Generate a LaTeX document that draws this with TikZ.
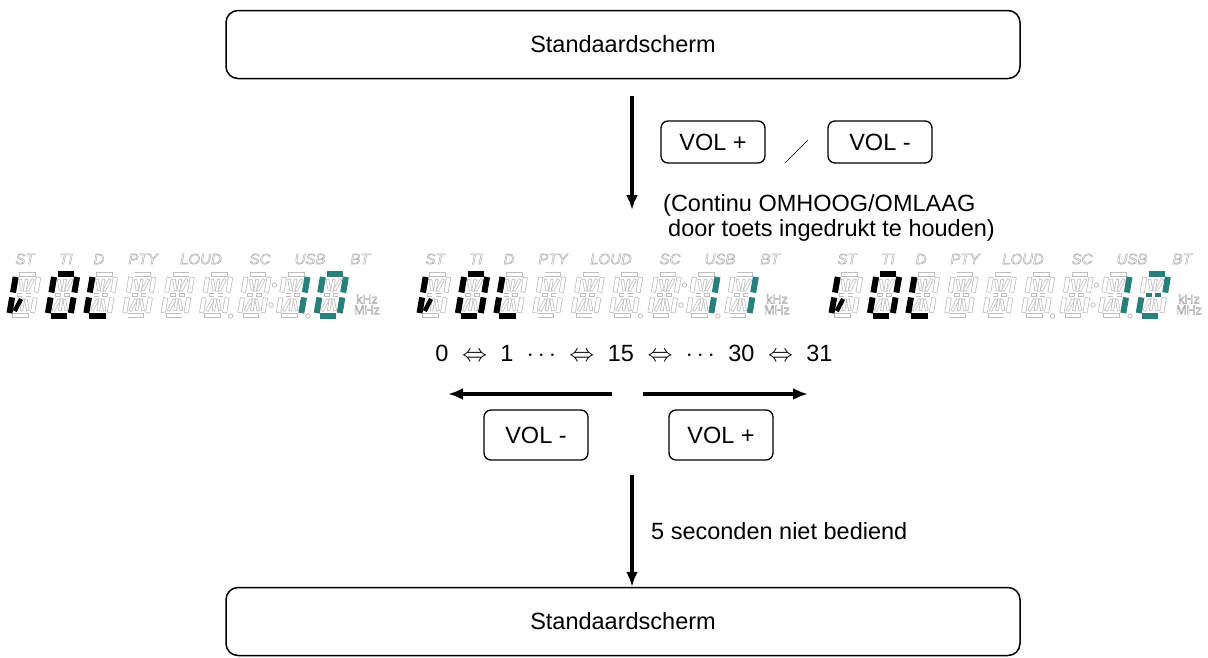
\documentclass[tikz,border=0pt]{standalone}
\usepackage{fontspec}
\setmainfont{Liberation Sans}
\usetikzlibrary{arrows.meta}
\definecolor{lcdteal}{RGB}{40,128,124}
\definecolor{lcdgrey}{RGB}{190,190,190}
\definecolor{lblgrey}{RGB}{165,165,165}
\newcommand{\gap}{\hskip 13.5pt}
\newcommand{\hollow}[1]{\special{pdf:literal direct 1 Tr 0.45 w}#1\special{pdf:literal direct 0 Tr}}
% segments of one 14-segment cell: name/x1/y1/x2/y2/width (y downwards)
\newcommand{\seglist}{a/3.8/2.4/20.2/2.4/5, b/23.5/5/23.5/20.5/5,
  c/23.5/25.5/23.5/41/5, d/3.8/43.6/20.2/43.6/5, e/.5/25.5/.5/41/5,
  f/.5/5/.5/20.5/5, gl/4.8/23/10.4/23/3.8, gr/13.6/23/19.2/23/3.8,
  h/5.4/7/9.6/19/3.4, i/12/7/12/19.5/3.4, j/18.6/7/14.4/19/3.4,
  k/9.6/27/5.4/39/3.4, l/12/26.5/12/39/3.4, m/14.4/27/18.6/39/3.4}
\newcommand{\lcdcell}[1]{%
  \begin{scope}[shift={(#1,272)},xslant=.17]
    \foreach \s/\xa/\ya/\xb/\yb/\w in \seglist{
      \pgfmathsetmacro\wi{\w-1.5}
      \draw[segoff=\w,postaction={draw=white,line width=\wi pt,
        shorten <=.75pt,shorten >=.75pt}] (\xa,\ya) -- (\xb,\yb);}
  \end{scope}}
\newcommand{\lcdlit}[3]{%
  \begin{scope}[shift={(#1,272)},xslant=.17]
    \foreach \s/\xa/\ya/\xb/\yb/\w in \seglist
      {\coordinate (\s-s) at (\xa,\ya); \coordinate (\s-e) at (\xb,\yb);
       \expandafter\xdef\csname segw@\s\endcsname{\w}}
    \foreach \s in {#2}{
      \pgfmathsetmacro\wl{\csname segw@\s\endcsname+1}
      \draw[segon=#3,line width=\wl pt] (\s-s) -- (\s-e);}
  \end{scope}}

\begin{document}
\begin{tikzpicture}[x=1pt,y=-1pt,
  every node/.style={font=\fontsize{23.5}{25.5}\selectfont},
  box/.style={draw,line width=1.5pt,rounded corners=12pt,
    minimum width=794pt,minimum height=68pt},
  key/.style={draw,line width=1.3pt,rounded corners=7pt,minimum width=104pt},
  flow/.style={line width=3.2pt,-{Latex[length=15pt,width=12pt]}},
  segoff/.style={draw=lcdgrey,line width=#1pt},
  segon/.style={draw=#1},
  segdot/.style={draw=lcdgrey,line width=.8pt,fill=white},
  lcdlbl/.style={font=\fontsize{15}{15}\selectfont\itshape,text=lblgrey,inner sep=0pt},
  lcdunit/.style={font=\fontsize{12.5}{12.5}\selectfont,text=lblgrey,inner sep=0pt}]
  \useasboundingbox (0,0) rectangle (1208,657);

  % first screen and key press
  \node[box] (std1) at (623,44.5) {Standaardscherm};
  \coordinate (a1) at (632,96);
  \coordinate (a2) at (632,210);
  \draw[flow] (a1) -- (a2);
  \node[key,minimum height=42pt] (kup) at (713,142) {VOL +};
  \node[key,minimum height=42pt] (kdn) at (880,142) {VOL -};
  \draw[line width=.6pt] (785,163) -- (808,140);
  \node[anchor=base west,inner sep=0pt] (hold1) at (663,211.5) {(Continu OMHOOG/OMLAAG};
  \node[anchor=base west,inner sep=0pt] (hold2) at (668,236.5) {door toets ingedrukt te houden)};

  % the three displays
  \foreach \dx [count=\d] in {0,410,822}{
    \foreach \x/\t [count=\n] in {25/ST,66/TI,99/D,143/PTY,201/LOUD,260/SC,310/USB,360/BT}
      \node[lcdlbl] (ind\d-\n) at (\dx+\x,259) {\hollow{\t}};
    \foreach \i in {0,...,8}{\lcdcell{\dx+16+38.4*\i}}
    \foreach \x/\y in {230.5/316,274.5/285,271/305,308/316}
      \draw[segdot] (\dx+\x,\y) circle (2.2pt);
    \node[lcdunit] (khz\d) at (\dx+367,299) {\hollow{kHz}};
    \node[lcdunit] (mhz\d) at (\dx+367,310) {\hollow{MHz}};
    \lcdlit{\dx+16}{f,e,k}{black}
    \lcdlit{\dx+54.4}{a,b,c,d,e,f}{black}
    \lcdlit{\dx+92.8}{f,e,d}{black}
    \lcdlit{\dx+284.8}{b,c}{lcdteal}
  }
  \lcdlit{323.2}{a,b,c,d,e,f}{lcdteal}
  \lcdlit{733.2}{b,c}{lcdteal}
  \lcdlit{1145.2}{a,b,gl,gr,e,d}{lcdteal}

  % range and keys
  \node (range) at (634,353) {0\gap$\Leftrightarrow$\gap1\gap$\cdots$\gap$\Leftrightarrow$\gap15\gap$\Leftrightarrow$\gap$\cdots$\gap30\gap$\Leftrightarrow$\gap31};
  \coordinate (lm0) at (612,394);
  \coordinate (lm1) at (448,394);
  \coordinate (lp0) at (643,394);
  \coordinate (lp1) at (808,394);
  \draw[flow] (lm0) -- (lm1);
  \draw[flow] (lp0) -- (lp1);
  \node[key,minimum height=50pt] (kminus) at (536,435) {VOL -};
  \node[key,minimum height=50pt] (kplus) at (721,435) {VOL +};

  % back to first screen
  \node[box] (std2) at (623,621.5) {Standaardscherm};
  \coordinate (a3) at (632,475);
  \draw[flow] (a3) -- (std2.north -| a3);
  \node[anchor=base west,inner sep=0pt] (idle) at (651,539.5) {5 seconden niet bediend};
\end{tikzpicture}
\end{document}
